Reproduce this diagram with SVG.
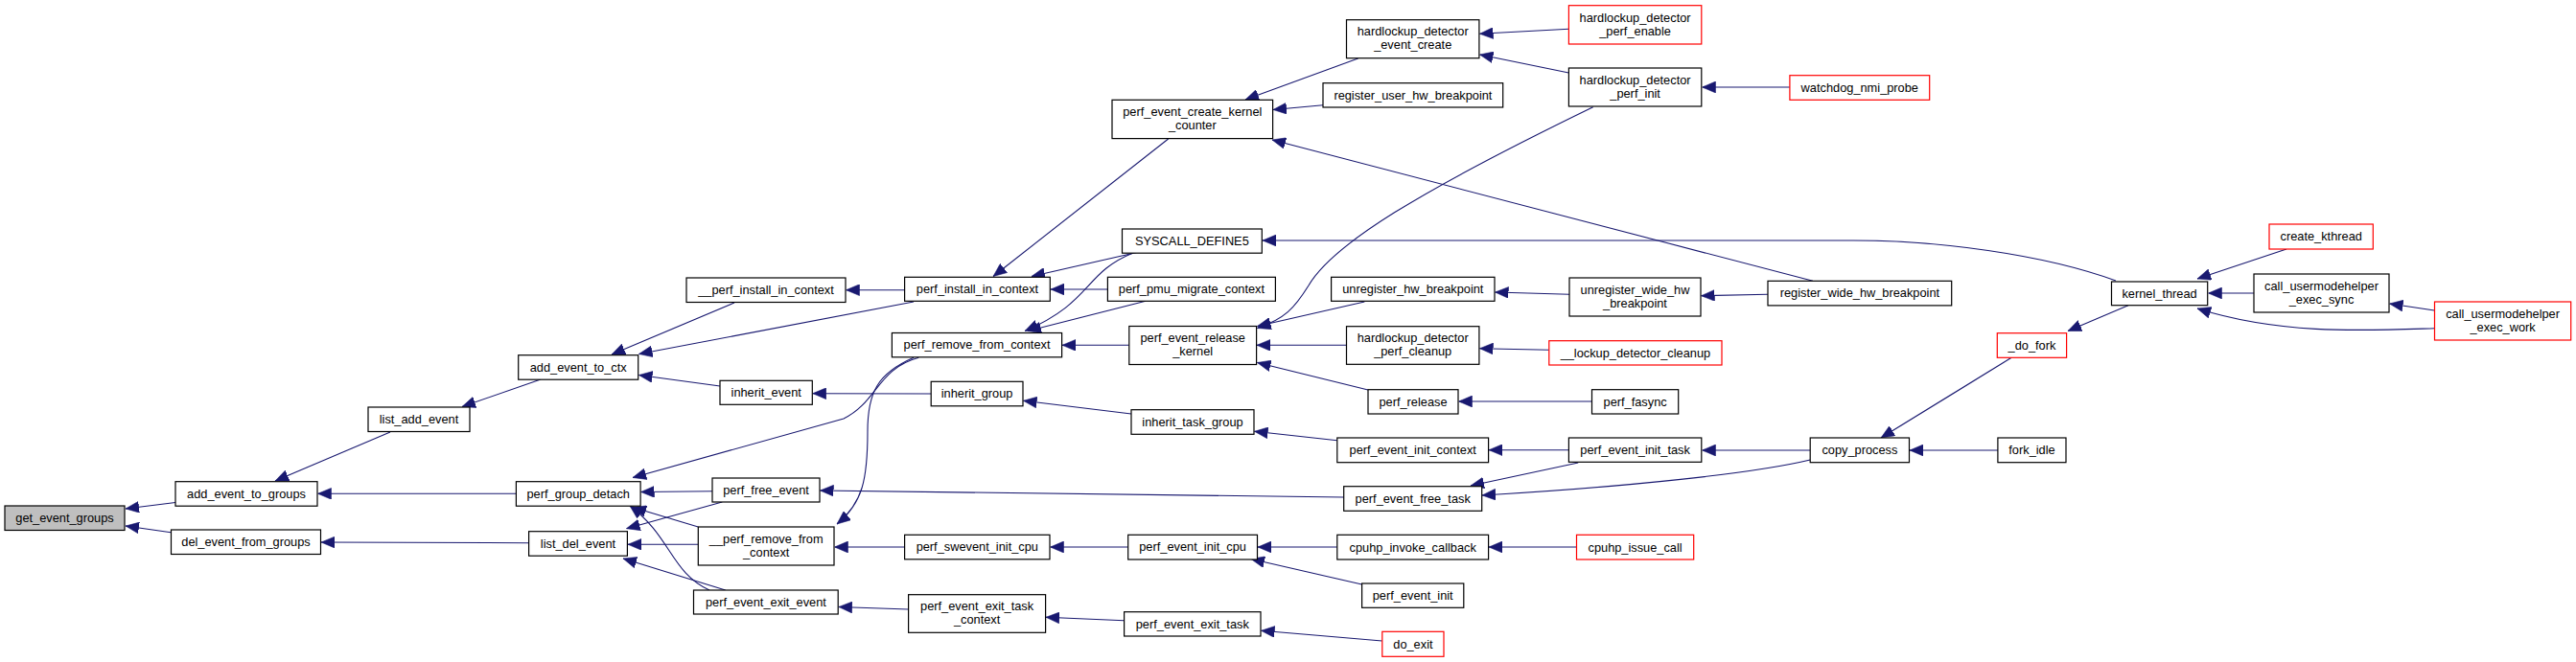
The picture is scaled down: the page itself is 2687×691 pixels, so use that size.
<svg xmlns="http://www.w3.org/2000/svg" width="2687" height="691" viewBox="0 0 2687 691">
<style>
.n rect{fill:#fff;stroke:#000;stroke-width:1.2}
.r rect{stroke:#f00}
.root rect{fill:#bfbfbf}
text{font-family:"Liberation Sans",Arial,sans-serif;font-size:12.8px;text-anchor:middle;fill:#000}
.e path{fill:none;stroke:#191970;stroke-width:1.1;marker-end:url(#a)}
</style>
<defs>
<marker id="a" markerUnits="userSpaceOnUse" markerWidth="14" markerHeight="12" viewBox="0 0 13 11" refX="13" refY="5.5" orient="auto">
<path d="M0,0 L13,5.5 L0,11 z" fill="#191970" stroke="#191970" stroke-width="0.5"/>
</marker>
</defs>
<rect width="2687" height="691" fill="#fff"/>
<g id="edges" class="e">
<path d="M183,524.5 L131,531"/>
<path d="M178.3,555.7 L131,549"/>
<path d="M407,451 L287,502"/>
<path d="M538.4,515.3 L331.5,515.3"/>
<path d="M551.6,566.7 L335,566"/>
<path d="M564,396 L482,424.5"/>
<path d="M766,316 L638,370"/>
<path d="M953,315 L666.5,369.5"/>
<path d="M751,403 L666.5,391.5"/>
<path d="M943.6,302.7 L882.5,302.7"/>
<path d="M1218.6,145 L1036,288.5"/>
<path d="M1186.7,263.3 L1076,288.5"/>
<path d="M1155.4,302 L1096,302"/>
<path d="M1416.6,61 L1299,104"/>
<path d="M1380,109.7 L1328,114.5"/>
<path d="M1891,293.3 L1327,146"/>
<path d="M1636.4,30.3 L1543.5,35.3"/>
<path d="M1636.4,76 L1543.5,57"/>
<path d="M1866.9,91 L1775.5,91"/>
<path d="M1661.7,111.7 C1480,200 1390,255 1365,298 C1350,322 1340,333 1311.5,342.5"/>
<path d="M2207,293 C2130,265 2020,251 1933,251 L1317,251"/>
<path d="M1182,264 C1130,285 1140,315 1069,345.5"/>
<path d="M1195,314.3 L1072,345.5"/>
<path d="M1177.8,360.3 L1108,360.3"/>
<path d="M1423.3,315 L1311.5,340.5"/>
<path d="M1637,307.3 L1559.5,305"/>
<path d="M1844,307.3 L1774.5,308.7"/>
<path d="M1404.5,360.3 L1311,360.3"/>
<path d="M1615.8,365.3 L1543.5,363.7"/>
<path d="M1427,407 L1311.5,378.5"/>
<path d="M1660.5,419 L1521.5,419"/>
<path d="M971.2,411 L847.8,410.7"/>
<path d="M1180,432 L1067.5,418.3"/>
<path d="M1394.8,459.7 L1308.5,450.3"/>
<path d="M1636.4,469.7 L1553,469.7"/>
<path d="M1646.2,483 L1534,507"/>
<path d="M1888.2,470 L1775.5,470"/>
<path d="M1888.2,480 C1830,494 1700,508 1546,517"/>
<path d="M2098.2,373.3 L1962,457"/>
<path d="M2084,470 L1992,470"/>
<path d="M2220,318.7 L2157,345.5"/>
<path d="M2385,260 L2292,291"/>
<path d="M2351,306 L2303.5,306"/>
<path d="M2539.3,324 L2492.5,317"/>
<path d="M2539.3,342.7 C2470,345 2380,350 2292,322"/>
<path d="M1401.7,519 L855.5,512"/>
<path d="M943.6,571 L870.5,571"/>
<path d="M947.6,636 L874.8,633.5"/>
<path d="M743.3,512.7 L668.5,513.5"/>
<path d="M753.3,524 L653.5,551.7"/>
<path d="M728.3,550 L660,529.5"/>
<path d="M728.3,568.3 L655,568.3"/>
<path d="M756.7,616 L650,583"/>
<path d="M740,616 C700,598 700,560 657,528"/>
<path d="M958.3,373.3 C915,385 915,420 880,437 L660,498.5"/>
<path d="M953,373.3 C915,390 905,410 905,450 C905,500 900,525 873,547"/>
<path d="M1172.6,647.7 L1091,644.3"/>
<path d="M1441.8,669 L1315.5,658.3"/>
<path d="M1176.7,571 L1095.5,571"/>
<path d="M1394.8,571 L1312,571"/>
<path d="M1420.6,610 L1305,583.5"/>
<path d="M1644.5,571 L1553,571"/>
</g>
<g id="get_event_groups" class="n root"><rect x="5" y="528" width="125" height="25.5"/><text x="67.5" y="545">get_event_groups</text></g>
<g id="add_event_to_groups" class="n"><rect x="183" y="502.7" width="148" height="25.5"/><text x="257" y="519.6">add_event_to_groups</text></g>
<g id="del_event_from_groups" class="n"><rect x="178.5" y="553" width="156" height="25.5"/><text x="256.5" y="570">del_event_from_groups</text></g>
<g id="list_add_event" class="n"><rect x="384" y="425" width="106" height="25.5"/><text x="437" y="442">list_add_event</text></g>
<g id="add_event_to_ctx" class="n"><rect x="540.7" y="370.7" width="125" height="25.5"/><text x="603.2" y="387.7">add_event_to_ctx</text></g>
<g id="inherit_event" class="n"><rect x="751" y="397.3" width="96.3" height="25"/><text x="799.2" y="414.1">inherit_event</text></g>
<g id="perf_group_detach" class="n"><rect x="538.4" y="502.7" width="129.7" height="25.5"/><text x="603.2" y="519.7">perf_group_detach</text></g>
<g id="list_del_event" class="n"><rect x="551.6" y="554.7" width="102.8" height="25.5"/><text x="603" y="571.7">list_del_event</text></g>
<g id="perf_free_event" class="n"><rect x="743" y="499" width="112" height="25"/><text x="799" y="515.8">perf_free_event</text></g>
<g id="__perf_remove_from_context" class="n"><rect x="728.3" y="550" width="141.7" height="40"/><text x="799.2" y="566.7">__perf_remove_from</text><text x="799.2" y="580.7">_context</text></g>
<g id="perf_event_exit_event" class="n"><rect x="723.5" y="616" width="150.7" height="25"/><text x="798.9" y="632.8">perf_event_exit_event</text></g>
<g id="__perf_install_in_context" class="n"><rect x="716" y="290" width="166" height="25.5"/><text x="799" y="307">__perf_install_in_context</text></g>
<g id="perf_install_in_context" class="n"><rect x="943.6" y="289.3" width="151.7" height="25"/><text x="1019.5" y="306.1">perf_install_in_context</text></g>
<g id="perf_remove_from_context" class="n"><rect x="930.4" y="347.5" width="177.2" height="25.3"/><text x="1019" y="364.4">perf_remove_from_context</text></g>
<g id="inherit_group" class="n"><rect x="971.2" y="398.3" width="95.8" height="25.5"/><text x="1019.1" y="415.3">inherit_group</text></g>
<g id="perf_swevent_init_cpu" class="n"><rect x="943.6" y="558.3" width="151.4" height="25.5"/><text x="1019.3" y="575.3">perf_swevent_init_cpu</text></g>
<g id="perf_event_exit_task_context" class="n"><rect x="947.6" y="620.7" width="143" height="39.6"/><text x="1019.1" y="637.2">perf_event_exit_task</text><text x="1019.1" y="651.2">_context</text></g>
<g id="perf_event_create_kernel_counter" class="n"><rect x="1160" y="104.3" width="167.6" height="40.3"/><text x="1243.8" y="121.2">perf_event_create_kernel</text><text x="1243.8" y="135.2">_counter</text></g>
<g id="SYSCALL_DEFINE5" class="n"><rect x="1170.5" y="239" width="145.8" height="25.2"/><text x="1243.4" y="255.9">SYSCALL_DEFINE5</text></g>
<g id="perf_pmu_migrate_context" class="n"><rect x="1155.4" y="289.3" width="175" height="25"/><text x="1242.9" y="306.1">perf_pmu_migrate_context</text></g>
<g id="perf_event_release_kernel" class="n"><rect x="1177.8" y="340.5" width="132.8" height="40"/><text x="1244.2" y="357.2">perf_event_release</text><text x="1244.2" y="371.2">_kernel</text></g>
<g id="inherit_task_group" class="n"><rect x="1180" y="427.7" width="128" height="25.6"/><text x="1244" y="444.8">inherit_task_group</text></g>
<g id="perf_event_init_cpu" class="n"><rect x="1176.7" y="558.3" width="134.8" height="25.7"/><text x="1244.1" y="575.4">perf_event_init_cpu</text></g>
<g id="perf_event_exit_task" class="n"><rect x="1172.6" y="638.7" width="142.4" height="25.3"/><text x="1243.8" y="655.6">perf_event_exit_task</text></g>
<g id="hardlockup_detector_event_create" class="n"><rect x="1404.5" y="20.7" width="138.4" height="40"/><text x="1473.7" y="37.4">hardlockup_detector</text><text x="1473.7" y="51.4">_event_create</text></g>
<g id="register_user_hw_breakpoint" class="n"><rect x="1380" y="86.7" width="187.7" height="25.3"/><text x="1473.9" y="103.6">register_user_hw_breakpoint</text></g>
<g id="unregister_hw_breakpoint" class="n"><rect x="1388.6" y="289.3" width="170.4" height="25"/><text x="1473.8" y="306.1">unregister_hw_breakpoint</text></g>
<g id="hardlockup_detector_perf_cleanup" class="n"><rect x="1404.5" y="340.7" width="138.4" height="39.6"/><text x="1473.7" y="357.2">hardlockup_detector</text><text x="1473.7" y="371.2">_perf_cleanup</text></g>
<g id="perf_release" class="n"><rect x="1427" y="406.7" width="94" height="25.3"/><text x="1474" y="423.6">perf_release</text></g>
<g id="perf_event_init_context" class="n"><rect x="1394.8" y="457" width="157.8" height="25.7"/><text x="1473.7" y="474.2">perf_event_init_context</text></g>
<g id="perf_event_free_task" class="n"><rect x="1401.7" y="507.7" width="144" height="25.6"/><text x="1473.7" y="524.8">perf_event_free_task</text></g>
<g id="cpuhp_invoke_callback" class="n"><rect x="1394.8" y="558.3" width="157.8" height="25.7"/><text x="1473.7" y="575.5">cpuhp_invoke_callback</text></g>
<g id="perf_event_init" class="n"><rect x="1420.6" y="609" width="106.2" height="25.3"/><text x="1473.7" y="625.9">perf_event_init</text></g>
<g id="do_exit" class="n r"><rect x="1441.8" y="659.3" width="64.2" height="26"/><text x="1473.9" y="676.6">do_exit</text></g>
<g id="hardlockup_detector_perf_enable" class="n r"><rect x="1636.4" y="5.7" width="138.4" height="40.3"/><text x="1705.6" y="22.5">hardlockup_detector</text><text x="1705.6" y="36.5">_perf_enable</text></g>
<g id="hardlockup_detector_perf_init" class="n"><rect x="1636.4" y="71" width="138.4" height="40"/><text x="1705.6" y="87.7">hardlockup_detector</text><text x="1705.6" y="101.7">_perf_init</text></g>
<g id="unregister_wide_hw_breakpoint" class="n"><rect x="1637" y="290" width="137" height="40"/><text x="1705.5" y="306.7">unregister_wide_hw</text><text x="1705.5" y="320.7">_breakpoint</text></g>
<g id="__lockup_detector_cleanup" class="n r"><rect x="1615.8" y="355.7" width="180.2" height="25.3"/><text x="1705.9" y="372.6">__lockup_detector_cleanup</text></g>
<g id="perf_fasync" class="n"><rect x="1660.5" y="406.7" width="90.2" height="25.3"/><text x="1705.6" y="423.6">perf_fasync</text></g>
<g id="perf_event_init_task" class="n"><rect x="1636.4" y="457" width="138.4" height="25.3"/><text x="1705.6" y="473.9">perf_event_init_task</text></g>
<g id="cpuhp_issue_call" class="n r"><rect x="1644.5" y="558.3" width="122.2" height="25.7"/><text x="1705.6" y="575.5">cpuhp_issue_call</text></g>
<g id="watchdog_nmi_probe" class="n r"><rect x="1866.9" y="78.7" width="145.8" height="25.6"/><text x="1939.8" y="95.8">watchdog_nmi_probe</text></g>
<g id="register_wide_hw_breakpoint" class="n"><rect x="1844" y="293.3" width="191.7" height="25.6"/><text x="1939.9" y="310.4">register_wide_hw_breakpoint</text></g>
<g id="copy_process" class="n"><rect x="1888.2" y="457" width="103.3" height="25.7"/><text x="1939.9" y="474.2">copy_process</text></g>
<g id="_do_fork" class="n r"><rect x="2083.3" y="347.7" width="72.3" height="25.6"/><text x="2119.5" y="364.8">_do_fork</text></g>
<g id="fork_idle" class="n"><rect x="2083.9" y="457" width="71.1" height="25.7"/><text x="2119.5" y="474.2">fork_idle</text></g>
<g id="kernel_thread" class="n"><rect x="2202.5" y="294" width="100.2" height="24.7"/><text x="2252.6" y="310.7">kernel_thread</text></g>
<g id="create_kthread" class="n r"><rect x="2367" y="234" width="108.3" height="26"/><text x="2421.2" y="251.3">create_kthread</text></g>
<g id="call_usermodehelper_exec_sync" class="n"><rect x="2351" y="286" width="141" height="40"/><text x="2421.5" y="302.7">call_usermodehelper</text><text x="2421.5" y="316.7">_exec_sync</text></g>
<g id="call_usermodehelper_exec_work" class="n r"><rect x="2539.5" y="315" width="142.2" height="40"/><text x="2610.6" y="331.7">call_usermodehelper</text><text x="2610.6" y="345.7">_exec_work</text></g>
</svg>
